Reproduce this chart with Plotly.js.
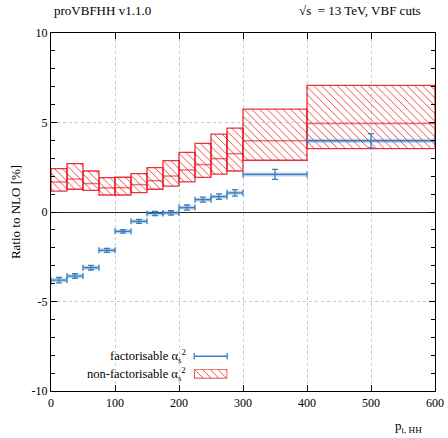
<!DOCTYPE html>
<html>
<head>
<meta charset="utf-8">
<script src="https://cdn.plot.ly/plotly-3.0.1.min.js"></script>
<style>html,body{margin:0;padding:0;background:#fff;}#chart{width:448px;height:438px;}</style>
</head>
<body>
<div id="chart"></div>
<script>
// bin edges in p_t,HH [GeV]
const binLo = [0, 25, 50, 75, 100, 125, 150, 175, 200, 225, 250, 275, 300, 400];
const binHi = [25, 50, 75, 100, 125, 150, 175, 200, 225, 250, 275, 300, 400, 600];

// non-factorisable alpha_s^2 : central value and band
const nfCentral = [1.68, 1.84, 1.59, 1.35, 1.36, 1.53, 1.75, 2.01, 2.35, 2.65, 2.98, 3.26, 3.98, 4.94];
const nfLow     = [1.17, 1.27, 1.21, 0.95, 0.95, 1.08, 1.27, 1.45, 1.68, 1.93, 2.12, 2.29, 2.89, 3.54];
const nfHigh    = [2.42, 2.70, 2.29, 1.92, 1.94, 2.14, 2.48, 2.87, 3.33, 3.83, 4.35, 4.69, 5.75, 7.07];

// factorisable alpha_s^2 : central value and error
const fCentral = [-3.81, -3.58, -3.11, -2.14, -1.08, -0.52, -0.08, -0.05, 0.25, 0.69, 0.86, 1.07, 2.10, 3.98];
const fErr     = [0.15, 0.13, 0.13, 0.11, 0.10, 0.11, 0.12, 0.12, 0.14, 0.14, 0.15, 0.18, 0.28, 0.40];

const xTicks = [0, 100, 200, 300, 400, 500, 600];
const yTicks = [-10, -5, 0, 5, 10];

const RED = '#e8101a';
const BLUE = '#3a7ebf';
const FONT = 'Liberation Serif, DejaVu Serif, serif';

const centers = binLo.map((l, i) => (l + binHi[i]) / 2);
const halfW = binLo.map((l, i) => (binHi[i] - l) / 2);
const widths = binLo.map((l, i) => binHi[i] - l);

// segments for central lines
function segs(vals) {
  const xs = [], ys = [];
  binLo.forEach((l, i) => { xs.push(l, binHi[i], null); ys.push(vals[i], vals[i], null); });
  return {xs, ys};
}
const nfSeg = segs(nfCentral);
const fSeg = segs(fCentral);

const hatch = {shape: '\\', fgcolor: RED, bgcolor: 'rgba(255,255,255,0)', size: 5.5, solidity: 0.14, fillmode: 'replace'};

const traces = [
  {
    type: 'bar', x: centers, base: nfLow, y: nfHigh.map((h, i) => h - nfLow[i]), width: widths,
    marker: {color: 'rgba(0,0,0,0)', line: {color: 'rgba(232,16,26,0.85)', width: 1.3}, pattern: hatch},
    hoverinfo: 'skip', showlegend: false
  },
  {
    type: 'scatter', mode: 'lines', x: nfSeg.xs, y: nfSeg.ys,
    line: {color: 'rgba(232,16,26,0.6)', width: 1.5}, hoverinfo: 'skip', showlegend: false
  },
  {
    type: 'scatter', mode: 'lines', x: fSeg.xs, y: fSeg.ys,
    line: {color: 'rgba(58,126,191,0.35)', width: 4}, hoverinfo: 'skip', showlegend: false
  },
  {
    type: 'scatter', mode: 'markers', x: centers, y: fCentral,
    marker: {size: 1, color: 'rgba(0,0,0,0)'},
    error_x: {type: 'data', array: halfW, symmetric: true, color: BLUE, thickness: 1.3, width: 3},
    error_y: {type: 'data', array: fErr, symmetric: true, color: BLUE, thickness: 1.3, width: 3},
    hoverinfo: 'skip', showlegend: false
  },
  // legend sample for hatched band, in its own tiny axes
  {
    type: 'bar', x: [0.5], y: [1], width: [1], xaxis: 'x2', yaxis: 'y2',
    marker: {color: 'rgba(0,0,0,0)', line: {color: RED, width: 1.3}, pattern: hatch},
    hoverinfo: 'skip', showlegend: false
  }
];

const axisCommon = {
  showline: true, linecolor: '#000', linewidth: 1.1, mirror: 'ticks',
  ticks: 'inside', tickcolor: '#000', ticklen: 6, tickwidth: 1,
  showgrid: true, gridcolor: '#c8c8c8', griddash: 'dot', gridwidth: 1,
  tickfont: {family: FONT, size: 12, color: '#000'}, zeroline: false
};

const lx0 = 0.373, lx1 = 0.459;
const layout = {
  width: 448, height: 438,
  margin: {l: 51, r: 13, t: 33, b: 47},
  paper_bgcolor: '#fff', plot_bgcolor: '#fff',
  barmode: 'overlay', showlegend: false,
  font: {family: FONT, size: 12, color: '#000'},
  xaxis: Object.assign({}, axisCommon, {range: [0, 600], tickvals: xTicks, ticktext: xTicks.map(String)}),
  yaxis: Object.assign({}, axisCommon, {range: [-10, 10], tickvals: yTicks, ticktext: yTicks.map(String),
    minor: {dtick: 1, ticks: 'inside', ticklen: 4, tickcolor: '#000', showgrid: false},
    zeroline: true, zerolinecolor: '#222', zerolinewidth: 1,
    title: {text: 'Ratio to NLO [%]', font: {family: FONT, size: 13}, standoff: 8}}),
  xaxis2: {domain: [lx0, lx1], anchor: 'y2', range: [0, 1], visible: false, fixedrange: true},
  yaxis2: {domain: [0.035, 0.061], anchor: 'x2', range: [0, 1], visible: false, fixedrange: true},
  annotations: [
    {xref: 'paper', yref: 'paper', x: 0.003, y: 1.035, xanchor: 'left', yanchor: 'bottom', showarrow: false,
      text: 'proVBFHH v1.1.0', font: {family: FONT, size: 13}},
    {xref: 'paper', yref: 'paper', x: 0.97, y: 1.035, xanchor: 'right', yanchor: 'bottom', showarrow: false,
      text: '√s&nbsp; = 13 TeV, VBF cuts', font: {family: FONT, size: 13}},
    {xref: 'paper', yref: 'paper', x: 0.93, y: -0.1, xanchor: 'center', yanchor: 'middle', showarrow: false,
      text: 'p<sub>t, HH</sub>', font: {family: FONT, size: 13}},
    {xref: 'paper', yref: 'paper', x: 0.357, y: 0.097, xanchor: 'right', yanchor: 'middle', showarrow: false,
      text: 'factorisable α<sub>s</sub><sup>2</sup>', font: {family: FONT, size: 12.5}},
    {xref: 'paper', yref: 'paper', x: 0.357, y: 0.047, xanchor: 'right', yanchor: 'middle', showarrow: false,
      text: 'non-factorisable α<sub>s</sub><sup>2</sup>', font: {family: FONT, size: 12.5}}
  ],
  shapes: [
    {type: 'line', xref: 'paper', yref: 'paper', x0: lx0, x1: lx1, y0: 0.097, y1: 0.097, line: {color: BLUE, width: 1.3}},
    {type: 'line', xref: 'paper', yref: 'paper', x0: lx0, x1: lx0, y0: 0.088, y1: 0.106, line: {color: BLUE, width: 1.3}},
    {type: 'line', xref: 'paper', yref: 'paper', x0: lx1, x1: lx1, y0: 0.088, y1: 0.106, line: {color: BLUE, width: 1.3}}
  ]
};

Plotly.newPlot('chart', traces, layout, {displayModeBar: false, staticPlot: true});
</script>
</body>
</html>
